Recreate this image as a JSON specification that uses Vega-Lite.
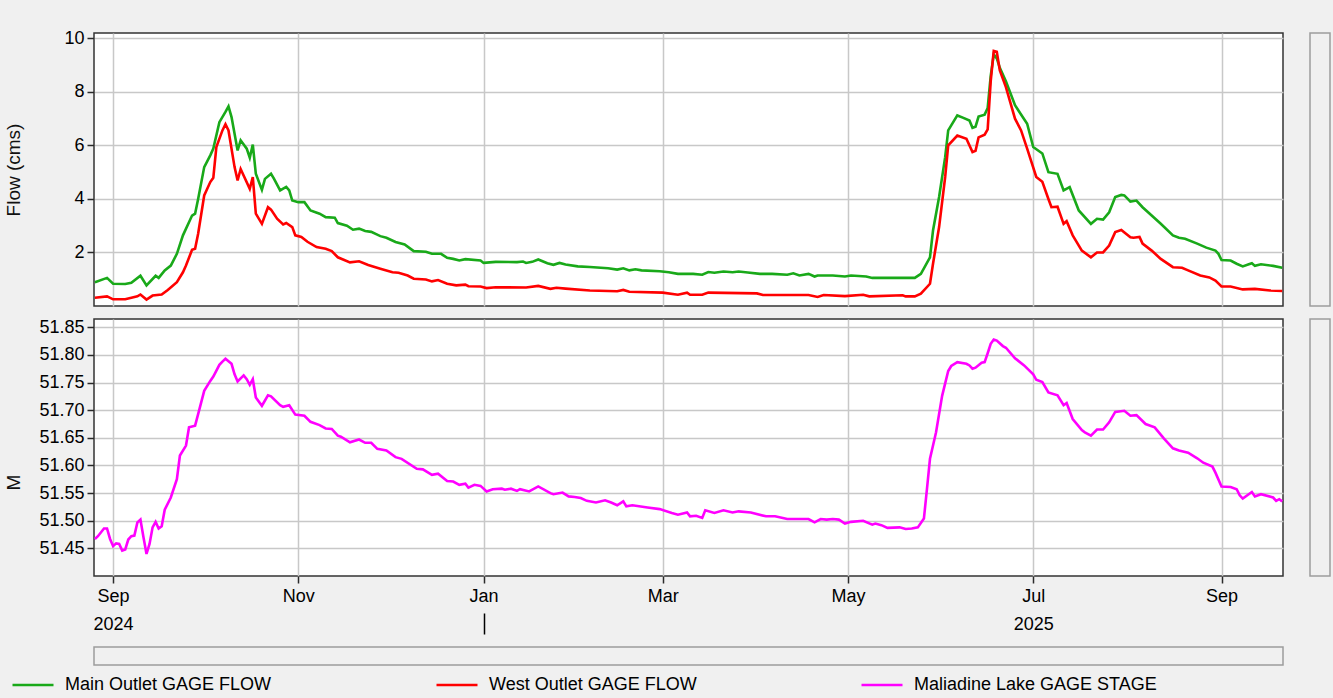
{
  "$schema": "https://vega.github.io/schema/vega-lite/v6.json",
  "background": "#f0f0f0",
  "padding": {"left": 4, "top": 28, "right": 3, "bottom": 8},
  "config": {
    "font": "Liberation Sans",
    "view": {"fill": "#ffffff", "stroke": "#333333", "strokeWidth": 1.5},
    "axis": {
      "labelFont": "Liberation Sans", "labelFontSize": 18, "labelColor": "#000000", "labelOverlap": false,
      "titleFont": "Liberation Sans", "titleFontSize": 19, "titleFontWeight": "normal", "titleColor": "#111111",
      "gridColor": "#c8c8c8", "gridWidth": 1.5,
      "tickColor": "#2b2b2b", "tickWidth": 1.5, "tickSize": 7,
      "labelPadding": 3, "domain": false
    },
    "line": {"strokeWidth": 2.6}
  },
  "datasets": {
    "main": [
      {"t":"2024/08/26","v":0.89},{"t":"2024/08/30","v":1.05},{"t":"2024/09/01","v":0.83},{"t":"2024/09/05","v":0.82},
      {"t":"2024/09/07","v":0.87},{"t":"2024/09/10","v":1.13},{"t":"2024/09/12","v":0.77},{"t":"2024/09/15","v":1.13},
      {"t":"2024/09/16","v":1.05},{"t":"2024/09/18","v":1.33},{"t":"2024/09/20","v":1.51},{"t":"2024/09/22","v":1.95},
      {"t":"2024/09/24","v":2.64},{"t":"2024/09/27","v":3.38},{"t":"2024/09/28","v":3.45},{"t":"2024/09/29","v":4.0},
      {"t":"2024/10/01","v":5.19},{"t":"2024/10/03","v":5.63},{"t":"2024/10/04","v":5.88},{"t":"2024/10/06","v":6.87},
      {"t":"2024/10/08","v":7.25},{"t":"2024/10/09","v":7.46},{"t":"2024/10/10","v":7.06},{"t":"2024/10/12","v":5.81},
      {"t":"2024/10/13","v":6.19},{"t":"2024/10/15","v":5.88},{"t":"2024/10/16","v":5.54},{"t":"2024/10/17","v":6.03},
      {"t":"2024/10/18","v":4.94},{"t":"2024/10/20","v":4.34},{"t":"2024/10/21","v":4.75},{"t":"2024/10/23","v":4.94},
      {"t":"2024/10/24","v":4.75},{"t":"2024/10/26","v":4.32},{"t":"2024/10/28","v":4.45},{"t":"2024/10/29","v":4.32},
      {"t":"2024/10/30","v":3.94},{"t":"2024/11/01","v":3.88},{"t":"2024/11/03","v":3.88},{"t":"2024/11/05","v":3.57},
      {"t":"2024/11/08","v":3.45},{"t":"2024/11/10","v":3.32},{"t":"2024/11/13","v":3.3},{"t":"2024/11/14","v":3.1},
      {"t":"2024/11/17","v":3.0},{"t":"2024/11/19","v":2.85},{"t":"2024/11/21","v":2.89},{"t":"2024/11/23","v":2.8},
      {"t":"2024/11/25","v":2.77},{"t":"2024/11/28","v":2.61},{"t":"2024/11/30","v":2.55},{"t":"2024/12/03","v":2.39},
      {"t":"2024/12/06","v":2.3},{"t":"2024/12/09","v":2.05},{"t":"2024/12/13","v":2.03},{"t":"2024/12/15","v":1.95},
      {"t":"2024/12/18","v":1.95},{"t":"2024/12/20","v":1.8},{"t":"2024/12/22","v":1.76},{"t":"2024/12/24","v":1.7},
      {"t":"2024/12/26","v":1.75},{"t":"2024/12/31","v":1.7},{"t":"2025/01/01","v":1.61},{"t":"2025/01/05","v":1.65},
      {"t":"2025/01/12","v":1.64},{"t":"2025/01/14","v":1.66},{"t":"2025/01/15","v":1.61},{"t":"2025/01/17","v":1.65},
      {"t":"2025/01/19","v":1.74},{"t":"2025/01/22","v":1.6},{"t":"2025/01/24","v":1.54},{"t":"2025/01/26","v":1.61},
      {"t":"2025/01/28","v":1.55},{"t":"2025/02/01","v":1.48},{"t":"2025/02/05","v":1.46},{"t":"2025/02/11","v":1.41},
      {"t":"2025/02/14","v":1.36},{"t":"2025/02/16","v":1.41},{"t":"2025/02/18","v":1.33},{"t":"2025/02/20","v":1.37},
      {"t":"2025/02/22","v":1.33},{"t":"2025/02/28","v":1.3},{"t":"2025/03/03","v":1.26},{"t":"2025/03/06","v":1.2},
      {"t":"2025/03/11","v":1.2},{"t":"2025/03/14","v":1.17},{"t":"2025/03/16","v":1.27},{"t":"2025/03/18","v":1.24},
      {"t":"2025/03/21","v":1.29},{"t":"2025/03/24","v":1.26},{"t":"2025/03/26","v":1.29},{"t":"2025/03/29","v":1.25},
      {"t":"2025/04/02","v":1.2},{"t":"2025/04/06","v":1.2},{"t":"2025/04/11","v":1.17},{"t":"2025/04/13","v":1.22},
      {"t":"2025/04/15","v":1.14},{"t":"2025/04/18","v":1.2},{"t":"2025/04/20","v":1.1},{"t":"2025/04/21","v":1.14},
      {"t":"2025/04/26","v":1.14},{"t":"2025/04/30","v":1.1},{"t":"2025/05/02","v":1.14},{"t":"2025/05/07","v":1.1},
      {"t":"2025/05/09","v":1.05},{"t":"2025/05/15","v":1.05},{"t":"2025/05/23","v":1.05},{"t":"2025/05/25","v":1.2},
      {"t":"2025/05/28","v":1.82},{"t":"2025/05/29","v":2.82},{"t":"2025/05/31","v":4.07},{"t":"2025/06/02","v":5.56},
      {"t":"2025/06/03","v":6.56},{"t":"2025/06/06","v":7.12},{"t":"2025/06/08","v":7.03},{"t":"2025/06/10","v":6.93},
      {"t":"2025/06/11","v":6.66},{"t":"2025/06/12","v":6.7},{"t":"2025/06/13","v":7.08},{"t":"2025/06/15","v":7.15},
      {"t":"2025/06/16","v":7.4},{"t":"2025/06/17","v":8.6},{"t":"2025/06/18","v":9.4},{"t":"2025/06/19","v":9.25},
      {"t":"2025/06/20","v":8.9},{"t":"2025/06/22","v":8.4},{"t":"2025/06/25","v":7.5},{"t":"2025/06/29","v":6.81},
      {"t":"2025/07/01","v":5.94},{"t":"2025/07/04","v":5.7},{"t":"2025/07/06","v":5.0},{"t":"2025/07/09","v":4.94},
      {"t":"2025/07/11","v":4.32},{"t":"2025/07/13","v":4.44},{"t":"2025/07/16","v":3.57},{"t":"2025/07/20","v":3.07},
      {"t":"2025/07/22","v":3.26},{"t":"2025/07/24","v":3.23},{"t":"2025/07/26","v":3.5},{"t":"2025/07/28","v":4.07},
      {"t":"2025/07/30","v":4.15},{"t":"2025/07/31","v":4.13},{"t":"2025/08/02","v":3.9},{"t":"2025/08/04","v":3.94},
      {"t":"2025/08/06","v":3.69},{"t":"2025/08/09","v":3.38},{"t":"2025/08/12","v":3.07},{"t":"2025/08/16","v":2.64},
      {"t":"2025/08/18","v":2.55},{"t":"2025/08/20","v":2.51},{"t":"2025/08/24","v":2.33},{"t":"2025/08/27","v":2.18},
      {"t":"2025/08/30","v":2.07},{"t":"2025/08/31","v":1.95},{"t":"2025/09/01","v":1.72},{"t":"2025/09/04","v":1.7},
      {"t":"2025/09/06","v":1.58},{"t":"2025/09/08","v":1.48},{"t":"2025/09/10","v":1.56},{"t":"2025/09/11","v":1.6},
      {"t":"2025/09/12","v":1.5},{"t":"2025/09/14","v":1.56},{"t":"2025/09/18","v":1.5},{"t":"2025/09/21","v":1.43}
    ],
    "west": [
      {"t":"2024/08/26","v":0.31},{"t":"2024/08/30","v":0.36},{"t":"2024/09/01","v":0.25},{"t":"2024/09/05","v":0.25},
      {"t":"2024/09/09","v":0.36},{"t":"2024/09/10","v":0.43},{"t":"2024/09/12","v":0.24},{"t":"2024/09/14","v":0.39},
      {"t":"2024/09/17","v":0.43},{"t":"2024/09/19","v":0.6},{"t":"2024/09/22","v":0.89},{"t":"2024/09/24","v":1.26},
      {"t":"2024/09/25","v":1.51},{"t":"2024/09/27","v":2.1},{"t":"2024/09/28","v":2.14},{"t":"2024/09/29","v":2.7},
      {"t":"2024/10/01","v":4.13},{"t":"2024/10/03","v":4.63},{"t":"2024/10/04","v":4.79},{"t":"2024/10/05","v":5.94},
      {"t":"2024/10/07","v":6.56},{"t":"2024/10/08","v":6.79},{"t":"2024/10/09","v":6.56},{"t":"2024/10/11","v":5.19},
      {"t":"2024/10/12","v":4.69},{"t":"2024/10/13","v":5.12},{"t":"2024/10/16","v":4.38},{"t":"2024/10/17","v":4.82},
      {"t":"2024/10/18","v":3.45},{"t":"2024/10/20","v":3.07},{"t":"2024/10/22","v":3.69},{"t":"2024/10/23","v":3.6},
      {"t":"2024/10/25","v":3.26},{"t":"2024/10/27","v":3.05},{"t":"2024/10/28","v":3.1},{"t":"2024/10/30","v":2.95},
      {"t":"2024/10/31","v":2.64},{"t":"2024/11/02","v":2.58},{"t":"2024/11/04","v":2.4},{"t":"2024/11/07","v":2.2},
      {"t":"2024/11/10","v":2.14},{"t":"2024/11/12","v":2.05},{"t":"2024/11/14","v":1.82},{"t":"2024/11/18","v":1.63},
      {"t":"2024/11/21","v":1.67},{"t":"2024/11/24","v":1.53},{"t":"2024/11/28","v":1.39},{"t":"2024/12/02","v":1.26},
      {"t":"2024/12/04","v":1.24},{"t":"2024/12/07","v":1.14},{"t":"2024/12/09","v":1.02},{"t":"2024/12/13","v":0.99},
      {"t":"2024/12/15","v":0.92},{"t":"2024/12/17","v":0.97},{"t":"2024/12/20","v":0.83},{"t":"2024/12/23","v":0.77},
      {"t":"2024/12/26","v":0.8},{"t":"2024/12/27","v":0.74},{"t":"2024/12/31","v":0.73},{"t":"2025/01/02","v":0.67},
      {"t":"2025/01/05","v":0.7},{"t":"2025/01/15","v":0.69},{"t":"2025/01/19","v":0.75},{"t":"2025/01/23","v":0.64},
      {"t":"2025/01/25","v":0.68},{"t":"2025/01/28","v":0.65},{"t":"2025/02/05","v":0.58},{"t":"2025/02/14","v":0.55},
      {"t":"2025/02/16","v":0.6},{"t":"2025/02/18","v":0.53},{"t":"2025/03/01","v":0.5},{"t":"2025/03/06","v":0.42},
      {"t":"2025/03/09","v":0.5},{"t":"2025/03/10","v":0.42},{"t":"2025/03/14","v":0.42},{"t":"2025/03/16","v":0.5},
      {"t":"2025/04/01","v":0.47},{"t":"2025/04/03","v":0.41},{"t":"2025/04/18","v":0.41},{"t":"2025/04/21","v":0.34},
      {"t":"2025/04/23","v":0.41},{"t":"2025/04/30","v":0.37},{"t":"2025/05/06","v":0.42},{"t":"2025/05/08","v":0.36},
      {"t":"2025/05/19","v":0.4},{"t":"2025/05/20","v":0.36},{"t":"2025/05/23","v":0.36},{"t":"2025/05/25","v":0.46},
      {"t":"2025/05/28","v":0.83},{"t":"2025/05/29","v":1.58},{"t":"2025/05/31","v":2.95},{"t":"2025/06/02","v":4.82},
      {"t":"2025/06/03","v":6.0},{"t":"2025/06/06","v":6.37},{"t":"2025/06/09","v":6.25},{"t":"2025/06/11","v":5.75},
      {"t":"2025/06/12","v":5.8},{"t":"2025/06/13","v":6.3},{"t":"2025/06/15","v":6.4},{"t":"2025/06/16","v":6.6},
      {"t":"2025/06/17","v":8.4},{"t":"2025/06/18","v":9.53},{"t":"2025/06/19","v":9.5},{"t":"2025/06/20","v":8.8},
      {"t":"2025/06/22","v":8.18},{"t":"2025/06/25","v":7.0},{"t":"2025/06/27","v":6.56},{"t":"2025/06/29","v":5.88},
      {"t":"2025/07/02","v":4.82},{"t":"2025/07/04","v":4.64},{"t":"2025/07/06","v":4.0},{"t":"2025/07/07","v":3.69},
      {"t":"2025/07/09","v":3.71},{"t":"2025/07/11","v":3.07},{"t":"2025/07/12","v":3.17},{"t":"2025/07/14","v":2.64},
      {"t":"2025/07/17","v":2.07},{"t":"2025/07/20","v":1.82},{"t":"2025/07/22","v":2.0},{"t":"2025/07/24","v":2.0},
      {"t":"2025/07/26","v":2.26},{"t":"2025/07/28","v":2.76},{"t":"2025/07/30","v":2.84},{"t":"2025/08/02","v":2.57},
      {"t":"2025/08/03","v":2.55},{"t":"2025/08/05","v":2.58},{"t":"2025/08/06","v":2.33},{"t":"2025/08/09","v":2.07},
      {"t":"2025/08/12","v":1.76},{"t":"2025/08/16","v":1.45},{"t":"2025/08/19","v":1.43},{"t":"2025/08/21","v":1.33},
      {"t":"2025/08/25","v":1.14},{"t":"2025/08/28","v":1.07},{"t":"2025/08/30","v":0.95},{"t":"2025/09/01","v":0.73},
      {"t":"2025/09/04","v":0.73},{"t":"2025/09/08","v":0.62},{"t":"2025/09/12","v":0.64},{"t":"2025/09/17","v":0.58},
      {"t":"2025/09/21","v":0.56}
    ],
    "stage": [
      {"t":"2024/08/26","v":51.467},{"t":"2024/08/27","v":51.472},{"t":"2024/08/29","v":51.486},{"t":"2024/08/30","v":51.486},
      {"t":"2024/08/31","v":51.467},{"t":"2024/09/01","v":51.454},{"t":"2024/09/02","v":51.459},{"t":"2024/09/03","v":51.458},
      {"t":"2024/09/04","v":51.446},{"t":"2024/09/05","v":51.448},{"t":"2024/09/06","v":51.466},{"t":"2024/09/07","v":51.472},
      {"t":"2024/09/08","v":51.473},{"t":"2024/09/09","v":51.497},{"t":"2024/09/10","v":51.502},{"t":"2024/09/11","v":51.47},
      {"t":"2024/09/12","v":51.44},{"t":"2024/09/13","v":51.458},{"t":"2024/09/14","v":51.488},{"t":"2024/09/15","v":51.498},
      {"t":"2024/09/16","v":51.486},{"t":"2024/09/17","v":51.49},{"t":"2024/09/18","v":51.52},{"t":"2024/09/20","v":51.542},
      {"t":"2024/09/22","v":51.575},{"t":"2024/09/23","v":51.618},{"t":"2024/09/25","v":51.636},{"t":"2024/09/26","v":51.669},
      {"t":"2024/09/28","v":51.672},{"t":"2024/09/29","v":51.693},{"t":"2024/10/01","v":51.735},{"t":"2024/10/03","v":51.753},
      {"t":"2024/10/04","v":51.761},{"t":"2024/10/06","v":51.782},{"t":"2024/10/07","v":51.788},{"t":"2024/10/08","v":51.793},
      {"t":"2024/10/10","v":51.784},{"t":"2024/10/11","v":51.765},{"t":"2024/10/12","v":51.752},{"t":"2024/10/14","v":51.763},
      {"t":"2024/10/15","v":51.756},{"t":"2024/10/16","v":51.746},{"t":"2024/10/17","v":51.756},{"t":"2024/10/18","v":51.723},
      {"t":"2024/10/20","v":51.708},{"t":"2024/10/22","v":51.727},{"t":"2024/10/23","v":51.725},{"t":"2024/10/26","v":51.709},
      {"t":"2024/10/27","v":51.706},{"t":"2024/10/29","v":51.709},{"t":"2024/10/31","v":51.692},{"t":"2024/11/03","v":51.69},
      {"t":"2024/11/05","v":51.679},{"t":"2024/11/08","v":51.673},{"t":"2024/11/10","v":51.667},{"t":"2024/11/12","v":51.666},
      {"t":"2024/11/14","v":51.654},{"t":"2024/11/15","v":51.652},{"t":"2024/11/18","v":51.642},{"t":"2024/11/21","v":51.647},
      {"t":"2024/11/23","v":51.641},{"t":"2024/11/25","v":51.641},{"t":"2024/11/27","v":51.63},{"t":"2024/11/30","v":51.627},
      {"t":"2024/12/03","v":51.615},{"t":"2024/12/05","v":51.612},{"t":"2024/12/10","v":51.594},{"t":"2024/12/12","v":51.593},
      {"t":"2024/12/15","v":51.583},{"t":"2024/12/17","v":51.585},{"t":"2024/12/20","v":51.572},{"t":"2024/12/22","v":51.571},
      {"t":"2024/12/24","v":51.565},{"t":"2024/12/26","v":51.567},{"t":"2024/12/27","v":51.56},{"t":"2024/12/29","v":51.565},
      {"t":"2024/12/31","v":51.563},{"t":"2025/01/02","v":51.553},{"t":"2025/01/04","v":51.557},{"t":"2025/01/07","v":51.558},
      {"t":"2025/01/08","v":51.556},{"t":"2025/01/10","v":51.558},{"t":"2025/01/12","v":51.554},{"t":"2025/01/13","v":51.557},
      {"t":"2025/01/16","v":51.553},{"t":"2025/01/19","v":51.562},{"t":"2025/01/23","v":51.55},{"t":"2025/01/24","v":51.548},
      {"t":"2025/01/27","v":51.551},{"t":"2025/01/29","v":51.544},{"t":"2025/01/31","v":51.543},{"t":"2025/02/02","v":51.541},
      {"t":"2025/02/04","v":51.536},{"t":"2025/02/07","v":51.533},{"t":"2025/02/10","v":51.537},{"t":"2025/02/12","v":51.533},
      {"t":"2025/02/14","v":51.528},{"t":"2025/02/16","v":51.535},{"t":"2025/02/17","v":51.526},{"t":"2025/02/19","v":51.528},
      {"t":"2025/02/24","v":51.524},{"t":"2025/02/28","v":51.521},{"t":"2025/03/04","v":51.514},{"t":"2025/03/06","v":51.511},
      {"t":"2025/03/09","v":51.515},{"t":"2025/03/10","v":51.508},{"t":"2025/03/12","v":51.509},{"t":"2025/03/14","v":51.505},
      {"t":"2025/03/15","v":51.519},{"t":"2025/03/18","v":51.514},{"t":"2025/03/21","v":51.519},{"t":"2025/03/24","v":51.515},
      {"t":"2025/03/26","v":51.517},{"t":"2025/03/30","v":51.515},{"t":"2025/04/04","v":51.508},{"t":"2025/04/07","v":51.508},
      {"t":"2025/04/11","v":51.503},{"t":"2025/04/15","v":51.503},{"t":"2025/04/18","v":51.503},{"t":"2025/04/20","v":51.497},
      {"t":"2025/04/22","v":51.503},{"t":"2025/04/24","v":51.502},{"t":"2025/04/26","v":51.503},{"t":"2025/04/28","v":51.502},
      {"t":"2025/04/30","v":51.495},{"t":"2025/05/02","v":51.498},{"t":"2025/05/06","v":51.5},{"t":"2025/05/09","v":51.493},
      {"t":"2025/05/10","v":51.495},{"t":"2025/05/12","v":51.492},{"t":"2025/05/14","v":51.487},{"t":"2025/05/18","v":51.488},
      {"t":"2025/05/20","v":51.485},{"t":"2025/05/22","v":51.486},{"t":"2025/05/24","v":51.488},{"t":"2025/05/26","v":51.504},
      {"t":"2025/05/27","v":51.557},{"t":"2025/05/28","v":51.612},{"t":"2025/05/30","v":51.66},{"t":"2025/06/01","v":51.726},
      {"t":"2025/06/03","v":51.771},{"t":"2025/06/04","v":51.78},{"t":"2025/06/06","v":51.787},{"t":"2025/06/09","v":51.784},
      {"t":"2025/06/10","v":51.781},{"t":"2025/06/11","v":51.775},{"t":"2025/06/12","v":51.777},{"t":"2025/06/14","v":51.786},
      {"t":"2025/06/15","v":51.787},{"t":"2025/06/16","v":51.803},{"t":"2025/06/17","v":51.82},{"t":"2025/06/18","v":51.828},
      {"t":"2025/06/19","v":51.826},{"t":"2025/06/21","v":51.816},{"t":"2025/06/22","v":51.813},{"t":"2025/06/25","v":51.794},
      {"t":"2025/06/28","v":51.781},{"t":"2025/07/01","v":51.765},{"t":"2025/07/02","v":51.755},{"t":"2025/07/04","v":51.751},
      {"t":"2025/07/06","v":51.732},{"t":"2025/07/09","v":51.727},{"t":"2025/07/11","v":51.709},{"t":"2025/07/12","v":51.713},
      {"t":"2025/07/14","v":51.684},{"t":"2025/07/17","v":51.664},{"t":"2025/07/18","v":51.66},{"t":"2025/07/20","v":51.654},
      {"t":"2025/07/22","v":51.665},{"t":"2025/07/24","v":51.665},{"t":"2025/07/26","v":51.678},{"t":"2025/07/28","v":51.697},
      {"t":"2025/07/31","v":51.699},{"t":"2025/08/02","v":51.69},{"t":"2025/08/04","v":51.691},{"t":"2025/08/07","v":51.675},
      {"t":"2025/08/10","v":51.669},{"t":"2025/08/13","v":51.649},{"t":"2025/08/16","v":51.631},{"t":"2025/08/18","v":51.627},
      {"t":"2025/08/21","v":51.623},{"t":"2025/08/24","v":51.613},{"t":"2025/08/26","v":51.605},{"t":"2025/08/29","v":51.598},
      {"t":"2025/08/30","v":51.587},{"t":"2025/09/01","v":51.562},{"t":"2025/09/04","v":51.561},{"t":"2025/09/06","v":51.557},
      {"t":"2025/09/07","v":51.546},{"t":"2025/09/08","v":51.54},{"t":"2025/09/11","v":51.552},{"t":"2025/09/12","v":51.544},
      {"t":"2025/09/14","v":51.548},{"t":"2025/09/18","v":51.542},{"t":"2025/09/19","v":51.536},{"t":"2025/09/20","v":51.539},
      {"t":"2025/09/21","v":51.535}
    ]
  },
  "resolve": {"scale": {"color": "shared"}, "legend": {"color": "shared"}},
  "columns": 2,
  "spacing": {"row": 10, "column": 20},
  "concat": [
    {
      "width": 1189,
      "height": 273,
      "layer": [
        {
          "data": {"name": "main"},
          "mark": {"type": "line"},
          "encoding": {
            "x": {"field": "t", "type": "temporal",
              "scale": {"domain": [{"year": 2024, "month": 8, "date": 25, "hours": 17}, {"year": 2025, "month": 9, "date": 21, "hours": 6}]},
              "axis": {"title": null, "labels": false, "ticks": false, "domain": false, "grid": true,
                "values": [{"year":2024,"month":9,"date":1},{"year":2024,"month":11,"date":1},{"year":2025,"month":1,"date":1},{"year":2025,"month":3,"date":1},{"year":2025,"month":5,"date":1},{"year":2025,"month":7,"date":1},{"year":2025,"month":9,"date":1}]}},
            "y": {"field": "v", "type": "quantitative",
              "scale": {"domain": [0, 10.2], "nice": false, "zero": false},
              "axis": {"title": "Flow (cms)", "values": [2, 4, 6, 8, 10], "titlePadding": 40, "labelOverlap": false}},
            "color": {"datum": "Main Outlet GAGE FLOW", "type": "nominal",
              "scale": {"domain": ["Main Outlet GAGE FLOW", "West Outlet GAGE FLOW", "Maliadine Lake GAGE STAGE"], "range": ["#19a919", "#ff0000", "#ff00ff"]},
              "legend": {"orient": "none", "legendX": -73, "legendY": 640, "direction": "horizontal", "title": null,
                "symbolType": "M-2,0H2", "symbolSize": 420, "symbolStrokeWidth": 3,
                "labelFont": "Liberation Sans", "labelFontSize": 18, "labelColor": "#000000", "labelOffset": 20, "labelLimit": 400,
                "columnPadding": 159, "padding": 0}}
          }
        },
        {
          "data": {"name": "west"},
          "mark": {"type": "line"},
          "encoding": {
            "x": {"field": "t", "type": "temporal",
              "scale": {"domain": [{"year": 2024, "month": 8, "date": 25, "hours": 17}, {"year": 2025, "month": 9, "date": 21, "hours": 6}]}},
            "y": {"field": "v", "type": "quantitative"},
            "color": {"datum": "West Outlet GAGE FLOW", "type": "nominal"}
          }
        }
      ]
    },
    {
      "width": 20,
      "height": 273,
      "view": {"fill": null, "stroke": "#9c9c9c", "strokeWidth": 1.5},
      "data": {"values": []},
      "mark": "rect",
      "encoding": {}
    },
    {
      "width": 1189,
      "height": 257,
      "data": {"name": "stage"},
      "resolve": {"axis": {"x": "independent"}},
      "layer": [
        {
          "mark": {"type": "line"},
          "encoding": {
            "x": {"field": "t", "type": "temporal",
              "scale": {"domain": [{"year": 2024, "month": 8, "date": 25, "hours": 17}, {"year": 2025, "month": 9, "date": 21, "hours": 6}]},
              "axis": {"orient": "bottom", "title": null, "format": "%b", "grid": true, "labelPadding": 4,
                "labelFlush": false, "labelOverlap": false,
                "values": [{"year":2024,"month":9,"date":1},{"year":2024,"month":11,"date":1},{"year":2025,"month":1,"date":1},{"year":2025,"month":3,"date":1},{"year":2025,"month":5,"date":1},{"year":2025,"month":7,"date":1},{"year":2025,"month":9,"date":1}]}},
            "y": {"field": "v", "type": "quantitative",
              "scale": {"domain": [51.4, 51.865], "nice": false, "zero": false},
              "axis": {"title": "M", "format": ".2f", "values": [51.45, 51.5, 51.55, 51.6, 51.65, 51.7, 51.75, 51.8, 51.85], "labelOverlap": false, "titlePadding": 15, "titleY": 163}},
            "color": {"datum": "Maliadine Lake GAGE STAGE", "type": "nominal"}
          }
        },
        {
          "mark": {"type": "line", "opacity": 0},
          "encoding": {
            "x": {"field": "t", "type": "temporal",
              "axis": {"orient": "bottom", "title": null, "grid": false, "offset": 37, "tickSize": 21, "tickColor": "#000000",
                "tickOpacity": {"condition": {"test": "month(datum.value) === 0", "value": 1}, "value": 0},
                "labelExpr": "month(datum.value) === 0 ? '' : timeFormat(datum.value, '%Y')",
                "labelPadding": -19, "labelFlush": false, "labelOverlap": false, "labelBound": false,
                "values": [{"year":2024,"month":9,"date":1},{"year":2025,"month":1,"date":1},{"year":2025,"month":7,"date":1}]}},
            "y": {"field": "v", "type": "quantitative",
              "axis": {"title": "M", "format": ".2f", "values": [51.45, 51.5, 51.55, 51.6, 51.65, 51.7, 51.75, 51.8, 51.85], "labelOverlap": false, "titlePadding": 15, "titleY": 163}}
          }
        }
      ]
    },
    {
      "width": 20,
      "height": 257,
      "view": {"fill": null, "stroke": "#9c9c9c", "strokeWidth": 1.5},
      "data": {"values": []},
      "mark": "rect",
      "encoding": {}
    },
    {
      "width": 1189,
      "height": 18,
      "view": {"fill": null, "stroke": "#9c9c9c", "strokeWidth": 1.5},
      "data": {"values": []},
      "mark": "rect",
      "encoding": {}
    }
  ]
}
